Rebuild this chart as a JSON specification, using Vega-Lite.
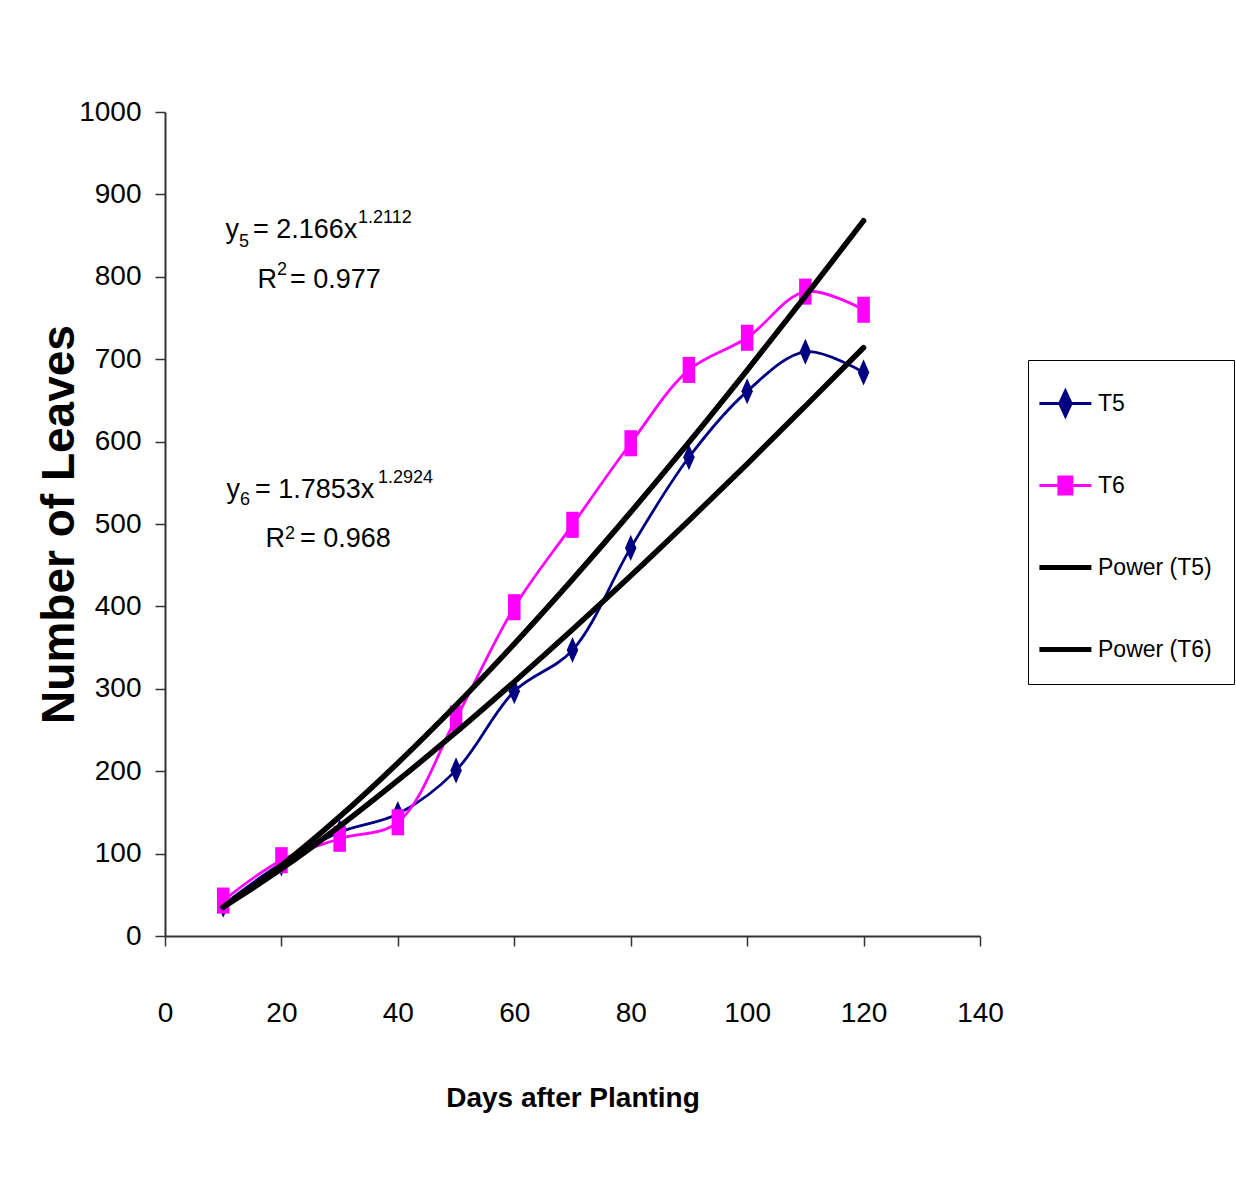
{
  "$schema": "https://vega.github.io/schema/vega-lite/v6.json",
  "width": 815,
  "height": 824,
  "autosize": {"type": "none"},
  "padding": {"left": 165, "top": 112, "right": 256, "bottom": 259},
  "background": "white",
  "config": {
    "view": {"stroke": null},
    "font": "Liberation Sans"
  },
  "datasets": {
    "obs": [
      {"day": 10, "leaves": 38, "series": "T5"},
      {"day": 20, "leaves": 88, "series": "T5"},
      {"day": 30, "leaves": 126, "series": "T5"},
      {"day": 40, "leaves": 148, "series": "T5"},
      {"day": 50, "leaves": 201, "series": "T5"},
      {"day": 60, "leaves": 297, "series": "T5"},
      {"day": 70, "leaves": 347, "series": "T5"},
      {"day": 80, "leaves": 471, "series": "T5"},
      {"day": 90, "leaves": 581, "series": "T5"},
      {"day": 100, "leaves": 661, "series": "T5"},
      {"day": 110, "leaves": 709, "series": "T5"},
      {"day": 120, "leaves": 684, "series": "T5"},
      {"day": 10, "leaves": 43, "series": "T6"},
      {"day": 20, "leaves": 92, "series": "T6"},
      {"day": 30, "leaves": 118, "series": "T6"},
      {"day": 40, "leaves": 138, "series": "T6"},
      {"day": 50, "leaves": 264, "series": "T6"},
      {"day": 60, "leaves": 399, "series": "T6"},
      {"day": 70, "leaves": 499, "series": "T6"},
      {"day": 80, "leaves": 598, "series": "T6"},
      {"day": 90, "leaves": 687, "series": "T6"},
      {"day": 100, "leaves": 726, "series": "T6"},
      {"day": 110, "leaves": 782, "series": "T6"},
      {"day": 120, "leaves": 760, "series": "T6"}
    ],
    "fit": [
      {"day": 10, "leaves": 35.2, "series": "Power (T5)"},
      {"day": 20, "leaves": 81.5, "series": "Power (T5)"},
      {"day": 30, "leaves": 133.2, "series": "Power (T5)"},
      {"day": 40, "leaves": 188.8, "series": "Power (T5)"},
      {"day": 50, "leaves": 247.4, "series": "Power (T5)"},
      {"day": 60, "leaves": 308.6, "series": "Power (T5)"},
      {"day": 70, "leaves": 371.9, "series": "Power (T5)"},
      {"day": 80, "leaves": 437.1, "series": "Power (T5)"},
      {"day": 90, "leaves": 504.2, "series": "Power (T5)"},
      {"day": 100, "leaves": 572.9, "series": "Power (T5)"},
      {"day": 110, "leaves": 643.1, "series": "Power (T5)"},
      {"day": 120, "leaves": 714.0, "series": "Power (T5)"},
      {"day": 10, "leaves": 35.0, "series": "Power (T6)"},
      {"day": 20, "leaves": 85.7, "series": "Power (T6)"},
      {"day": 30, "leaves": 144.8, "series": "Power (T6)"},
      {"day": 40, "leaves": 210.0, "series": "Power (T6)"},
      {"day": 50, "leaves": 280.1, "series": "Power (T6)"},
      {"day": 60, "leaves": 354.6, "series": "Power (T6)"},
      {"day": 70, "leaves": 432.8, "series": "Power (T6)"},
      {"day": 80, "leaves": 514.4, "series": "Power (T6)"},
      {"day": 90, "leaves": 599.1, "series": "Power (T6)"},
      {"day": 100, "leaves": 686.6, "series": "Power (T6)"},
      {"day": 110, "leaves": 776.4, "series": "Power (T6)"},
      {"day": 120, "leaves": 868.0, "series": "Power (T6)"}
    ],
    "notes": [
      {"day": 12.71, "leaves": 847.1, "text": "y", "role": "main", "anchor": "end"},
      {"day": 12.71, "leaves": 836.2, "text": "5", "role": "small", "anchor": "start"},
      {"day": 15.12, "leaves": 847.1, "text": "= 2.166x", "role": "main", "anchor": "start"},
      {"day": 33.15, "leaves": 865.3, "text": "1.2112", "role": "small", "anchor": "start"},
      {"day": 19.24, "leaves": 786.4, "text": "R", "role": "main", "anchor": "end"},
      {"day": 19.24, "leaves": 802.2, "text": "2", "role": "small", "anchor": "start"},
      {"day": 21.47, "leaves": 786.4, "text": "= 0.977", "role": "main", "anchor": "start"},
      {"day": 12.88, "leaves": 531.6, "text": "y", "role": "main", "anchor": "end"},
      {"day": 12.88, "leaves": 523.1, "text": "6", "role": "small", "anchor": "start"},
      {"day": 15.46, "leaves": 531.6, "text": "= 1.7853x", "role": "main", "anchor": "start"},
      {"day": 36.59, "leaves": 549.8, "text": "1.2924", "role": "small", "anchor": "start"},
      {"day": 20.61, "leaves": 472.1, "text": "R", "role": "main", "anchor": "end"},
      {"day": 20.61, "leaves": 481.8, "text": "2", "role": "small", "anchor": "start"},
      {"day": 23.19, "leaves": 472.1, "text": "= 0.968", "role": "main", "anchor": "start"}
    ]
  },
  "encoding": {
    "x": {
      "field": "day", "type": "quantitative",
      "scale": {"domain": [0, 140], "nice": false, "zero": false},
      "axis": {
        "title": "Days after Planting",
        "values": [0, 20, 40, 60, 80, 100, 120, 140],
        "format": "d",
        "labelFlush": false,
        "labelOverlap": false,
        "grid": false,
        "domainColor": "#333333", "domainWidth": 2,
        "tickColor": "#333333", "tickWidth": 1.5, "tickSize": 10,
        "labelFontSize": 28, "labelColor": "black", "labelPadding": 53,
        "labelFont": "Liberation Sans",
        "titleFont": "Liberation Sans",
        "titleFontSize": 28, "titleFontWeight": "bold", "titleColor": "black",
        "titlePadding": 57
      }
    },
    "y": {
      "field": "leaves", "type": "quantitative",
      "scale": {"domain": [0, 1000], "nice": false},
      "axis": {
        "title": "Number of Leaves",
        "values": [0, 100, 200, 300, 400, 500, 600, 700, 800, 900, 1000],
        "format": "d",
        "labelFlush": false,
        "labelOverlap": false,
        "grid": false,
        "domainColor": "#333333", "domainWidth": 2,
        "tickColor": "#333333", "tickWidth": 1.5, "tickSize": 10,
        "labelFontSize": 28, "labelColor": "black", "labelPadding": 14,
        "labelFont": "Liberation Sans",
        "titleFont": "Liberation Sans",
        "titleFontSize": 46, "titleFontWeight": "bold", "titleColor": "black",
        "titlePadding": -5
      }
    }
  },
  "layer": [
    {
      "data": {"name": "obs"},
      "mark": {"type": "line", "interpolate": "catmull-rom", "strokeWidth": 2.8},
      "encoding": {
        "color": {
          "field": "series", "type": "nominal",
          "scale": {"domain": ["T5", "T6", "Power (T5)", "Power (T6)"], "range": ["#000080", "#FF00FF", "#000000", "#000000"]},
          "legend": {
            "orient": "none", "legendX": 863, "legendY": 248,
            "title": " ",
            "titleFontSize": 6,
            "titlePadding": 4,
            "strokeColor": "black", "fillColor": "white",
            "padding": 22,
            "symbolSize": 2704,
            "gridAlign": "all",
            "rowPadding": 48,
            "labelOffset": 25,
            "labelFontSize": 23, "labelColor": "black",
            "labelFont": "Liberation Sans",
            "symbolType": "stroke",
            "encode": {
              "symbols": {
                "update": {
                  "shape": {"signal": "datum.value === 'T5' ? 'M-0.85,0H1.15M0.15,-0.48L0.37,0L0.15,0.48L-0.07,0Z' : (datum.value === 'T6' ? 'M-0.85,0H1.15M-0.1,-0.33H0.4V0.33H-0.1Z' : 'M-0.85,0H1.15')"},
                  "fill": {"signal": "scale('color', datum.value)"},
                  "stroke": {"signal": "scale('color', datum.value)"},
                  "strokeWidth": {"signal": "indexof(['Power (T5)', 'Power (T6)'], datum.value) >= 0 ? 5 : 3"},
                  "opacity": {"value": 1},
                  "fillOpacity": {"value": 1},
                  "strokeOpacity": {"value": 1}
                }
              }
            }
          }
        }
      }
    },
    {
      "data": {"name": "obs"},
      "mark": {"type": "point", "filled": true, "opacity": 1, "strokeWidth": 0},
      "encoding": {
        "color": {"field": "series", "type": "nominal"},
        "shape": {
          "field": "series", "type": "nominal",
          "scale": {"domain": ["T5", "T6"], "range": ["M0,-1L0.44,0L0,1L-0.44,0Z", "M-0.48,-1H0.48V1H-0.48Z"]},
          "legend": null
        },
        "size": {"value": 680}
      }
    },
    {
      "data": {"name": "fit"},
      "mark": {"type": "line", "interpolate": "monotone", "strokeWidth": 5.5, "strokeCap": "round"},
      "encoding": {
        "color": {"field": "series", "type": "nominal"},
        "detail": {"field": "series"}
      }
    },
    {
      "data": {"name": "notes"},
      "transform": [{"filter": "datum.role === 'main' && datum.anchor === 'start'"}],
      "mark": {"type": "text", "align": "left", "baseline": "alphabetic", "fontSize": 27, "color": "black", "font": "Liberation Sans"},
      "encoding": {"text": {"field": "text"}}
    },
    {
      "data": {"name": "notes"},
      "transform": [{"filter": "datum.role === 'main' && datum.anchor === 'end'"}],
      "mark": {"type": "text", "align": "right", "baseline": "alphabetic", "fontSize": 27, "color": "black", "font": "Liberation Sans"},
      "encoding": {"text": {"field": "text"}}
    },
    {
      "data": {"name": "notes"},
      "transform": [{"filter": "datum.role === 'small'"}],
      "mark": {"type": "text", "align": "left", "baseline": "alphabetic", "fontSize": 18, "color": "black", "font": "Liberation Sans"},
      "encoding": {"text": {"field": "text"}}
    }
  ]
}
